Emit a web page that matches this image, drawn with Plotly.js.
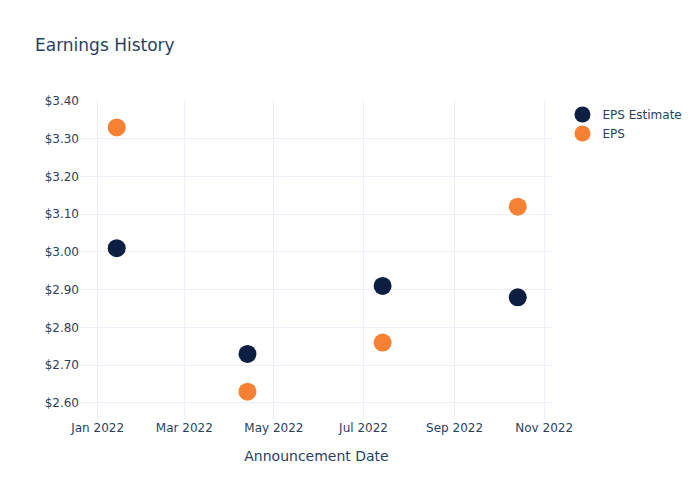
<!DOCTYPE html>
<html><head><meta charset="utf-8">
<script src="https://cdn.plot.ly/plotly-3.0.1.min.js"></script>
<style>body{margin:0;}#chart{width:700px;height:500px;}</style>
</head><body><div id="chart"></div>
<script>
const dates = ["2022-01-14", "2022-04-13", "2022-07-14", "2022-10-14"];
const epsEstimate = [3.01, 2.73, 2.91, 2.88];
const eps = [3.33, 2.63, 2.76, 3.12];

const traces = [
  {x: dates, y: epsEstimate, name: "EPS Estimate", mode: "markers", type: "scatter",
   marker: {color: "#0c1f42", size: 18}},
  {x: dates, y: eps, name: "EPS", mode: "markers", type: "scatter",
   marker: {color: "#f68135", size: 18}}
];
const layout = {
  width: 700, height: 500,
  template: "plotly_white",
  paper_bgcolor: "white", plot_bgcolor: "white",
  font: {family: "'DejaVu Sans', verdana, sans-serif", color: "#2a3f5f", size: 12},
  title: {text: "Earnings History", x: 0.05, xanchor: "left", y: 0.9215, font: {size: 17}},
  margin: {l: 80, r: 147, t: 100, b: 81},
  xaxis: {title: {text: "Announcement Date", font: {size: 14}, standoff: 17}, type: "date",
          range: ["2021-12-20", "2022-11-07"], dtick: "M2", tickformat: "%b %Y",
          gridcolor: "#EBF0F8", zeroline: false, showline: false, automargin: false},
  yaxis: {range: [2.5576, 3.4026], dtick: 0.1, tickformat: "$.2f",
          gridcolor: "#EBF0F8", zeroline: false, showline: false},
  legend: {x: 1.02, y: 1, xanchor: "left", yanchor: "top", font: {size: 12}},
  showlegend: true
};
Plotly.newPlot("chart", traces, layout, {displayModeBar: false});
</script></body></html>
